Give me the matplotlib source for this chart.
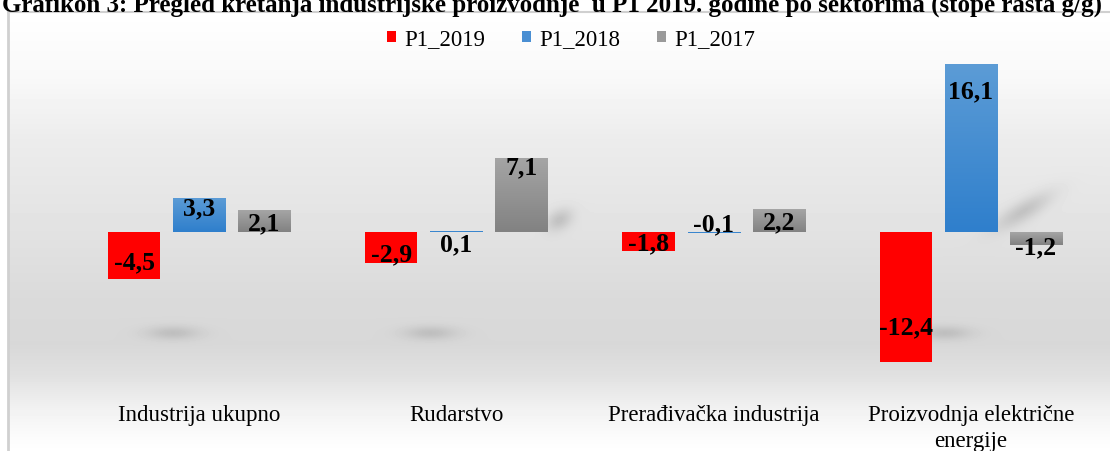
import numpy as np
import matplotlib
matplotlib.use('Agg')
import matplotlib.pyplot as plt
from matplotlib.patches import Patch

plt.rcParams['font.family'] = ['Liberation Serif', 'DejaVu Serif']

categories = ['Industrija ukupno', 'Rudarstvo', 'Prerađivačka industrija',
              'Proizvodnja električne\nenergije']
series_names = ['P1_2019', 'P1_2018', 'P1_2017']
p1_2019 = [-4.5, -2.9, -1.8, -12.4]
p1_2018 = [3.3, 0.1, -0.1, 16.1]
p1_2017 = [2.1, 7.1, 2.2, -1.2]
title = 'Grafikon 3: Pregled kretanja industrijske proizvodnje  u P1 2019. godine po sektorima (stope rasta g/g)'

# label offsets from bar end (pixels, up = positive)
off_2019 = [17, 9, 8, 35]
off_2018 = [-10, -13, 9, -27]
off_2017 = [-12, -9, -13, -2]

W, H = 1110, 452
fig = plt.figure(figsize=(W / 100, H / 100), dpi=100)

# ---- main axes
ax_l, ax_r, ax_t, ax_b = 70.5, 1099.5, 60, 395
ax = fig.add_axes([ax_l / W, 1 - ax_b / H, (ax_r - ax_l) / W, (ax_b - ax_t) / H])
ax.set_facecolor('none')
ax.set_xlim(-0.5, 3.5)
ax.set_ylim(-15.5, 16.6)

def px(x, y):
    # data -> pixel (top-left origin)
    p = ax.transData.transform((x, y))
    return p[0], H - p[1]

# ---- background (gradient, frame, shadows)
bg = fig.add_axes([0, 0, 1, 1], zorder=-5)
bg.set_xlim(0, W)
bg.set_ylim(H, 0)
bg.axis('off')
yy = np.arange(H)
grad = np.interp(yy, [13, 80, 140, 233, 300, 345, 375, 410, 440, 452],
                 [255, 248, 236, 226, 218, 216, 224, 242, 252, 255]) / 255.0
img = np.repeat(grad[:, None], W, axis=1)
img[:, :8] = 1.0
img[:13, :] = 1.0
XX, YY = np.meshgrid(np.arange(W), yy)

def blob(cx, cy, sx, sy, ang, depth):
    global img
    c, s = np.cos(ang), np.sin(ang)
    dx, dy = XX - cx, YY - cy
    u = dx * c + dy * s
    v = -dx * s + dy * c
    img = img - depth * np.exp(-0.5 * ((u / sx) ** 2 + (v / sy) ** 2))

bw = 0.203
pitch = 0.253
all_series = [p1_2019, p1_2018, p1_2017]
for j, vals in enumerate(all_series):
    for i, v in enumerate(vals):
        xc = i + (j - 1) * pitch
        if v < -2:
            cx, _ = px(xc + 0.15, 0)
            _, cy = px(0, -9.6)
            blob(cx, cy, 19, 5, 0, 0.1)
        elif v > 5:
            bx, by = px(xc + bw / 2, 0)
            _, ty = px(0, v)
            L = 0.36 * (by - ty)
            a = np.radians(-31)
            blob(bx + 0.5 * L * np.cos(a), by - 6 + 0.5 * L * np.sin(a),
                 L * 0.38, 7, a, 0.13)
img = np.clip(img, 0, 1)
bg.imshow(img, cmap='gray', vmin=0, vmax=1, extent=(0, W, H, 0), aspect='auto',
          interpolation='bilinear')
bg.plot([8, 8], [13, H], color='#d0d0d0', lw=2)
bg.plot([8, W], [13, 13], color='#d0d0d0', lw=1.5)

# ---- bars
colors_top = ['#ff0000', '#5c9cd6', '#a5a5a5']
colors_bot = ['#ff0000', '#2f7fcc', '#828282']
offsets = [off_2019, off_2018, off_2017]
x = np.arange(len(categories))
for j, vals in enumerate(all_series):
    bars = ax.bar(x + (j - 1) * pitch, vals, width=bw, color=colors_bot[j], zorder=2)
    if j > 0:
        ct = np.array(matplotlib.colors.to_rgb(colors_top[j]))
        cb = np.array(matplotlib.colors.to_rgb(colors_bot[j]))
        t = np.linspace(0, 1, 64)[:, None]
        g = (ct * (1 - t) + cb * t)[:, None, :]
        for b in bars:
            x0, y0 = b.get_x(), b.get_y()
            x1, y1 = x0 + b.get_width(), y0 + b.get_height()
            top, bot = max(y0, y1), min(y0, y1)
            im = ax.imshow(g, extent=(x0, x1, bot, top), aspect='auto', zorder=3,
                           interpolation='bilinear', origin='upper')
            im.set_clip_path(b)
    for i, v in enumerate(vals):
        ax.annotate(f'{v:.1f}'.replace('.', ','), xy=(x[i] + (j - 1) * pitch, v),
                    xytext=(0, offsets[j][i]), textcoords='offset pixels',
                    ha='center', va='center', fontsize=18.5, fontweight='bold',
                    zorder=5)
ax.set_xlim(-0.5, 3.5)
ax.set_ylim(-15.5, 16.6)

for s in ax.spines.values():
    s.set_visible(False)
ax.set_yticks([])
ax.set_xticks(x)
ax.set_xticklabels(categories, fontsize=16.5, linespacing=1.3)
ax.tick_params(axis='x', length=0, pad=7)

# ---- legend
handles = [Patch(facecolor=c, edgecolor='none') for c in ['#ff0000', '#4a8fd3', '#9a9a9a']]
fig.legend(handles, series_names, loc='center', bbox_to_anchor=(571 / W, 1 - 40 / H),
           ncol=3, frameon=False, fontsize=16.5,
           handlelength=0.4, handleheight=0.4, handletextpad=0.35, columnspacing=1.6)

# ---- title (cut off at the top like the source)
tt = fig.text(2 / W, 1 - 12 / H, title, ha='left', va='baseline',
              fontsize=17, fontweight='bold')
r = fig.canvas.get_renderer()
wpx = tt.get_window_extent(r).width
tt.set_fontsize(17 * 1103 / wpx)

fig.savefig('out.png', dpi=100)
